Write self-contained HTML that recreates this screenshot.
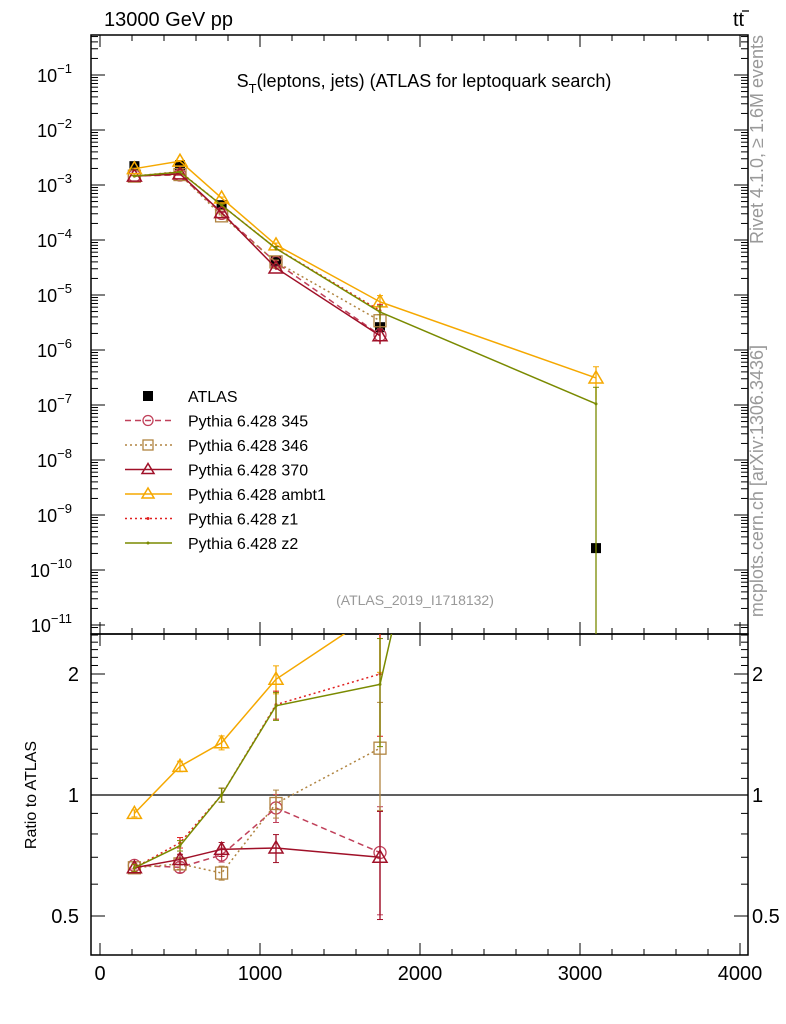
<!DOCTYPE html>
<html><head><meta charset="utf-8"><style>
body{margin:0;background:#fff;}
svg{display:block;font-family:"Liberation Sans",sans-serif;}
</style></head><body>
<svg id="c" width="786" height="1024" xmlns="http://www.w3.org/2000/svg"></svg>
<script>
const binX=[215,500,760,1100,1750,3100];
const atlasVals=[2.2e-3,2.3e-3,4.3e-4,4.2e-5,2.6e-6,2.5e-10];
const v345=[1.47e-3,1.52e-3,3.05e-4,3.9e-5,1.87e-6];
const v346=[1.45e-3,1.55e-3,2.75e-4,4.0e-5,3.4e-6];
const v370=[1.45e-3,1.59e-3,3.15e-4,3.1e-5,1.82e-6];
const vambt1=[1.98e-3,2.71e-3,5.8e-4,8.15e-5,7.5e-6,3.1e-7];
const vz1=[1.45e-3,1.75e-3,4.3e-4,7.05e-5,5.2e-6];
const vz2=[1.45e-3,1.72e-3,4.3e-4,7.0e-5,4.9e-6,1.05e-7];
const relErr=[0.02,0.03,0.04,0.08,0.3,1.0];
const xTicks=[0,1000,2000,3000,4000];
const yExps=[-1,-2,-3,-4,-5,-6,-7,-8,-9,-10,-11];
const ratioTicks=[0.5,1,2];

const svg=document.getElementById('c');
const NS='http://www.w3.org/2000/svg';
const L=91,R=748,T=35,MB=634,RB=955;
const X=v=>100+v*0.16;
const Y=v=>75+(-1-Math.log10(v))*55;
const YR=r=>795-Math.log2(r)*121;
function mk(tag,at,parent){const e=document.createElementNS(NS,tag);for(const k in at)e.setAttribute(k,at[k]);(parent||svg).appendChild(e);return e;}

const defs=mk('defs',{});
const c1=mk('clipPath',{id:'cm'},defs);mk('rect',{x:L,y:T,width:R-L,height:MB-T},c1);
const c2=mk('clipPath',{id:'cr'},defs);mk('rect',{x:L,y:MB,width:R-L,height:RB-MB},c2);

let f=mk('rect',{x:L,y:T,width:R-L,height:MB-T,fill:'none',stroke:'#000','stroke-width':1.5});

f=mk('rect',{x:L,y:MB,width:R-L,height:RB-MB,fill:'none',stroke:'#000','stroke-width':1.5});


for(let v=0;v<=4000;v+=200){
  const x=X(v);const len=(v%1000===0)?12:6;
  for(const [y0,d] of [[RB,-1],[MB,-1],[MB,1],[T,1]]){
    mk('line',{x1:x,x2:x,y1:y0,y2:y0+d*len,stroke:'#000','stroke-width':1});
  }
}
xTicks.forEach(v=>{const t=mk('text',{x:X(v),y:980,'font-size':20,'text-anchor':'middle'});t.textContent=v;
});

yExps.forEach(e=>{
  const y=Y(Math.pow(10,e));
  mk('line',{x1:L,x2:L+14,y1:y,y2:y,stroke:'#000'});mk('line',{x1:R,x2:R-14,y1:y,y2:y,stroke:'#000'});
  for(let m=2;m<=9;m++){const ym=Y(m*Math.pow(10,e));if(ym<T||ym>MB)continue;
    mk('line',{x1:L,x2:L+7,y1:ym,y2:ym,stroke:'#000'});mk('line',{x1:R,x2:R-7,y1:ym,y2:ym,stroke:'#000'});}
  const t=mk('text',{x:72,y:y+7,'font-size':18,'text-anchor':'end'});
  t.textContent='10';const s=mk('tspan',{dy:-9,'font-size':13},t);s.textContent=String(e).replace('-','\u2212');
  
});
{const ym=Y(9e-12);mk('line',{x1:L,x2:L+7,y1:ym,y2:ym,stroke:'#000'});mk('line',{x1:R,x2:R-7,y1:ym,y2:ym,stroke:'#000'});}

[0.4,0.5,0.6,0.7,0.8,0.9,1,1.1,1.2,1.3,1.4,1.5,1.6,1.7,1.8,1.9,2,2.1,2.2,2.3,2.4,2.5].forEach(r=>{
  const y=YR(r);if(y<MB||y>RB)return;const maj=ratioTicks.includes(r);const len=maj?14:7;
  mk('line',{x1:L,x2:L+len,y1:y,y2:y,stroke:'#000'});mk('line',{x1:R,x2:R-len,y1:y,y2:y,stroke:'#000'});
});
ratioTicks.forEach(r=>{
  let t=mk('text',{x:79,y:YR(r)+7,'font-size':20,'text-anchor':'end'});t.textContent=r;
  
  t=mk('text',{x:752,y:YR(r)+7,'font-size':20}); t.textContent=r;
  
});
mk('line',{x1:L,x2:R,y1:YR(1),y2:YR(1),stroke:'#000','stroke-width':1.2});

function txt(s,at,name){const t=mk('text',at);t.textContent=s;return t;}
txt('13000 GeV pp',{x:104,y:26,'font-size':20},'energy-label');
txt('tt',{x:733,y:26,'font-size':20},'process-label');
mk('line',{x1:742,x2:749,y1:11,y2:11,stroke:'#000','stroke-width':1.3});
{const t=mk('text',{x:424,y:87,'font-size':18,'text-anchor':'middle'});

const a=mk('tspan',{},t);a.textContent='S';const b=mk('tspan',{dy:6,'font-size':13},t);b.textContent='T';
const c=mk('tspan',{dy:-6},t);c.textContent='(leptons, jets) (ATLAS for leptoquark search)';}
txt('(ATLAS_2019_I1718132)',{x:415,y:605,'font-size':14,fill:'#999','text-anchor':'middle'},'analysis-id');
txt('Rivet 4.1.0, \u2265 1.6M events',{x:0,y:0,'font-size':18,fill:'#999','text-anchor':'end',transform:'translate(763,35) rotate(-90)'},'rivet-label');
txt('mcplots.cern.ch [arXiv:1306.3436]',{x:0,y:0,'font-size':18,fill:'#999','text-anchor':'end',transform:'translate(763,345) rotate(-90)'},'mcplots-label');
txt('Ratio to ATLAS',{x:0,y:0,'font-size':16,'text-anchor':'middle',transform:'translate(36,795) rotate(-90)'},'y-axis-title-ratio');

const series=[
 {name:'Pythia 6.428 345',vals:v345,color:'#c0405a',dash:'6,4',marker:'circle',id:'p345'},
 {name:'Pythia 6.428 346',vals:v346,color:'#b08440',dash:'2,3',marker:'square',id:'p346'},
 {name:'Pythia 6.428 370',vals:v370,color:'#a01028',dash:'',marker:'tri',id:'p370'},
 {name:'Pythia 6.428 ambt1',vals:vambt1,color:'#f5a800',dash:'',marker:'tri',id:'ambt1'},
 {name:'Pythia 6.428 z1',vals:vz1,color:'#e02020',dash:'2,3',marker:'dot',id:'z1'},
 {name:'Pythia 6.428 z2',vals:vz2,color:'#7a8a00',dash:'',marker:'dot',id:'z2'}
];
function marker(type,x,y,color,g,sz){
  sz=sz||6;
  if(type==='circle')return mk('circle',{cx:x,cy:y,r:sz,fill:'none',stroke:color,'stroke-width':1.3},g);
  if(type==='square')return mk('rect',{x:x-sz,y:y-sz,width:2*sz,height:2*sz,fill:'none',stroke:color,'stroke-width':1.3},g);
  if(type==='tri')return mk('polygon',{points:`${x},${y-sz-1} ${x-sz-1},${y+sz-1} ${x+sz+1},${y+sz-1}`,fill:'none',stroke:color,'stroke-width':1.5},g);
  if(type==='dot')return mk('circle',{cx:x,cy:y,r:1.5,fill:color},g);
  if(type==='sqf')return mk('rect',{x:x-5,y:y-5,width:10,height:10,fill:'#000'},g);
}
{const g=mk('g',{'clip-path':'url(#cm)'});
atlasVals.forEach((v,i)=>{const m=marker('sqf',X(binX[i]),Y(v),'#000',g);
});}

series.forEach(s=>{
  const g=mk('g',{'clip-path':'url(#cm)'});
  
  const pts=s.vals.map((v,i)=>[X(binX[i]),Y(v)]);
  mk('polyline',{points:pts.map(p=>p.join(',')).join(' '),fill:'none',stroke:s.color,'stroke-width':1.5,'stroke-dasharray':s.dash},g);
  s.vals.forEach((v,i)=>{const x=X(binX[i]);let e=relErr[i];
    if(s.id==='ambt1'&&i===5)e=0.6;
    const hi=Y(v*(1+e)),lo=Y(Math.max(v*(1-e),1e-13));
    mk('line',{x1:x,x2:x,y1:hi,y2:lo,stroke:s.color,'stroke-width':1.3},g);
    mk('line',{x1:x-3,x2:x+3,y1:hi,y2:hi,stroke:s.color},g);
    const m=marker(s.marker,x,Y(v),s.color,g);
    
  });
  const g2=mk('g',{'clip-path':'url(#cr)'});
  
  const rp=s.vals.map((v,i)=>[X(binX[i]),YR(v/atlasVals[i])]);
  mk('polyline',{points:rp.map(p=>p.join(',')).join(' '),fill:'none',stroke:s.color,'stroke-width':1.5,'stroke-dasharray':s.dash},g2);
  s.vals.forEach((v,i)=>{const r=v/atlasVals[i];const x=X(binX[i]);const e=relErr[i];
    if(r>10)return;
    const hi=YR(r*(1+e)),lo=YR(Math.max(r*(1-e),0.3));
    mk('line',{x1:x,x2:x,y1:hi,y2:lo,stroke:s.color,'stroke-width':1.3},g2);
    mk('line',{x1:x-3,x2:x+3,y1:hi,y2:hi,stroke:s.color},g2);
    mk('line',{x1:x-3,x2:x+3,y1:lo,y2:lo,stroke:s.color},g2);
    const m=marker(s.marker,x,YR(r),s.color,g2);
    
  });
});

{const lg=mk('g',{});
const y0=396,dy=24.5;
let e=mk('g',{},lg);
marker('sqf',148,y0,'#000',e);
let t=mk('text',{x:188,y:y0+6,'font-size':16},e);t.textContent='ATLAS';
series.forEach((s,i)=>{const y=y0+dy*(i+1);
  const g=mk('g',{},lg);
  mk('line',{x1:125,x2:172,y1:y,y2:y,stroke:s.color,'stroke-width':1.5,'stroke-dasharray':s.dash},g);
  marker(s.marker,148,y,s.color,g,5);
  const tt=mk('text',{x:188,y:y+6,'font-size':16},g);tt.textContent=s.name;
});}
</script>
</body></html>
